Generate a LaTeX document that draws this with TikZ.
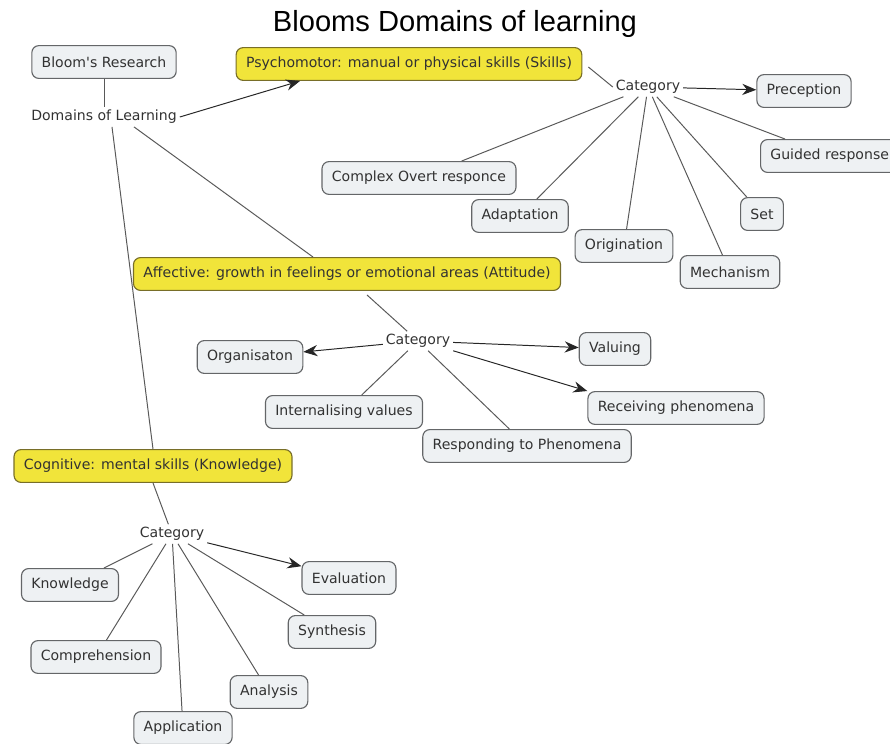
\documentclass[tikz,border=0pt]{standalone}
\usepackage{fontspec}
\setmainfont{DejaVu Sans}
\newfontfamily\titlefont{Liberation Sans}
\usetikzlibrary{arrows.meta}
\definecolor{boxfill}{RGB}{238,241,243}
\definecolor{boxline}{RGB}{100,102,104}
\definecolor{domfill}{RGB}{241,228,58}
\definecolor{domline}{RGB}{120,110,40}
\definecolor{txt}{RGB}{50,50,50}
\tikzset{
  concept/.style={draw=boxline, fill=boxfill, rounded corners=5pt, line width=0.8pt, minimum height=0.82cm, inner xsep=7pt, text=txt, font=\fontsize{10}{12}\selectfont},
  domainbox/.style={concept, draw=domline, fill=domfill},
  linktext/.style={text=txt, font=\fontsize{10}{12}\selectfont, inner sep=2pt},
  link/.style={draw=black!65, line width=0.7pt},
  arrowlink/.style={link, draw=black!85, -{Stealth[length=10pt, width=8pt]}}
}
\begin{document}
\begin{tikzpicture}[x=0.025cm, y=-0.025cm]
				\useasboundingbox (0,0) rectangle (890,744);
				% Title
				\node[text=black, font=\titlefont\fontsize{20.7}{24}\selectfont] (title) at (455,24) {Blooms Domains of learning};

				% Top of the map
				\node[concept] (bloom) at (104,62) {Bloom\textquotesingle s Research};
				\node[linktext] (domains) at (104,117) {Domains of Learning};

				% Three domains
				\node[domainbox] (psycho) at (409,64) {Psychomotor: manual or physical skills (Skills)};
				\node[domainbox] (affect) at (347,274) {Affective: growth in feelings or emotional areas (Attitude)};
				\node[domainbox] (cogni) at (153,466) {Cognitive: mental skills (Knowledge)};

				% Psychomotor categories
				\node[linktext] (catP) at (648,87) {Category};
				\node[concept] (percep) at (804,91) {Preception};
				\node[concept, anchor=west] (guided) at (760,156) {Guided response};
				\node[concept] (complex) at (419,178) {Complex Overt responce};
				\node[concept] (adapt) at (520,216) {Adaptation};
				\node[concept] (orig) at (624,246) {Origination};
				\node[concept] (set) at (762,214) {Set};
				\node[concept] (mech) at (730,272) {Mechanism};

				% Affective categories
				\node[linktext] (catA) at (418,341) {Category};
				\node[concept] (organ) at (250,357) {Organisaton};
				\node[concept] (valuing) at (615,349) {Valuing};
				\node[concept] (intern) at (344,412) {Internalising values};
				\node[concept] (receiv) at (676,408) {Receiving phenomena};
				\node[concept] (respond) at (527,446) {Responding to Phenomena};

				% Cognitive categories
				\node[linktext] (catC) at (172,534) {Category};
				\node[concept] (know) at (70,585) {Knowledge};
				\node[concept] (evalu) at (349,578) {Evaluation};
				\node[concept] (synth) at (332,632) {Synthesis};
				\node[concept] (compre) at (96,657) {Comprehension};
				\node[concept] (analys) at (269,692) {Analysis};
				\node[concept] (applic) at (183,728) {Application};

				% Links from the top
				\draw[link] (bloom) -- (domains);
				\draw[arrowlink] (domains.east) -- (300,0 |- psycho.south);
				\draw[link] (domains.south) ++(30,0) -- (313,0 |- affect.north);
				\draw[link] (domains.south) ++(8,0) -- (cogni.north);

				% Psychomotor links
				\draw[link] (psycho.east) ++(6,3) -- (catP.west);
				\draw[arrowlink] (catP) -- (percep);
				\foreach \n in {guided, complex, adapt, orig, set, mech}
					\draw[link] (catP) -- (\n);

				% Affective links
				\draw[link] (affect.south) ++(20,4) -- (catA);
				\draw[arrowlink] (catA) -- (organ);
				\draw[arrowlink] (catA) -- (valuing);
				\draw[arrowlink] (catA.south east) -- (receiv.north west);
				\draw[link] (catA) -- (intern);
				\draw[link] (catA) -- (respond);

				% Cognitive links
				\draw[link] (cogni.south) -- (catC);
				\draw[arrowlink] (catC) -- (evalu);
				\foreach \n in {know, compre, applic, analys, synth}
					\draw[link] (catC) -- (\n);
			\end{tikzpicture}
\end{document}
